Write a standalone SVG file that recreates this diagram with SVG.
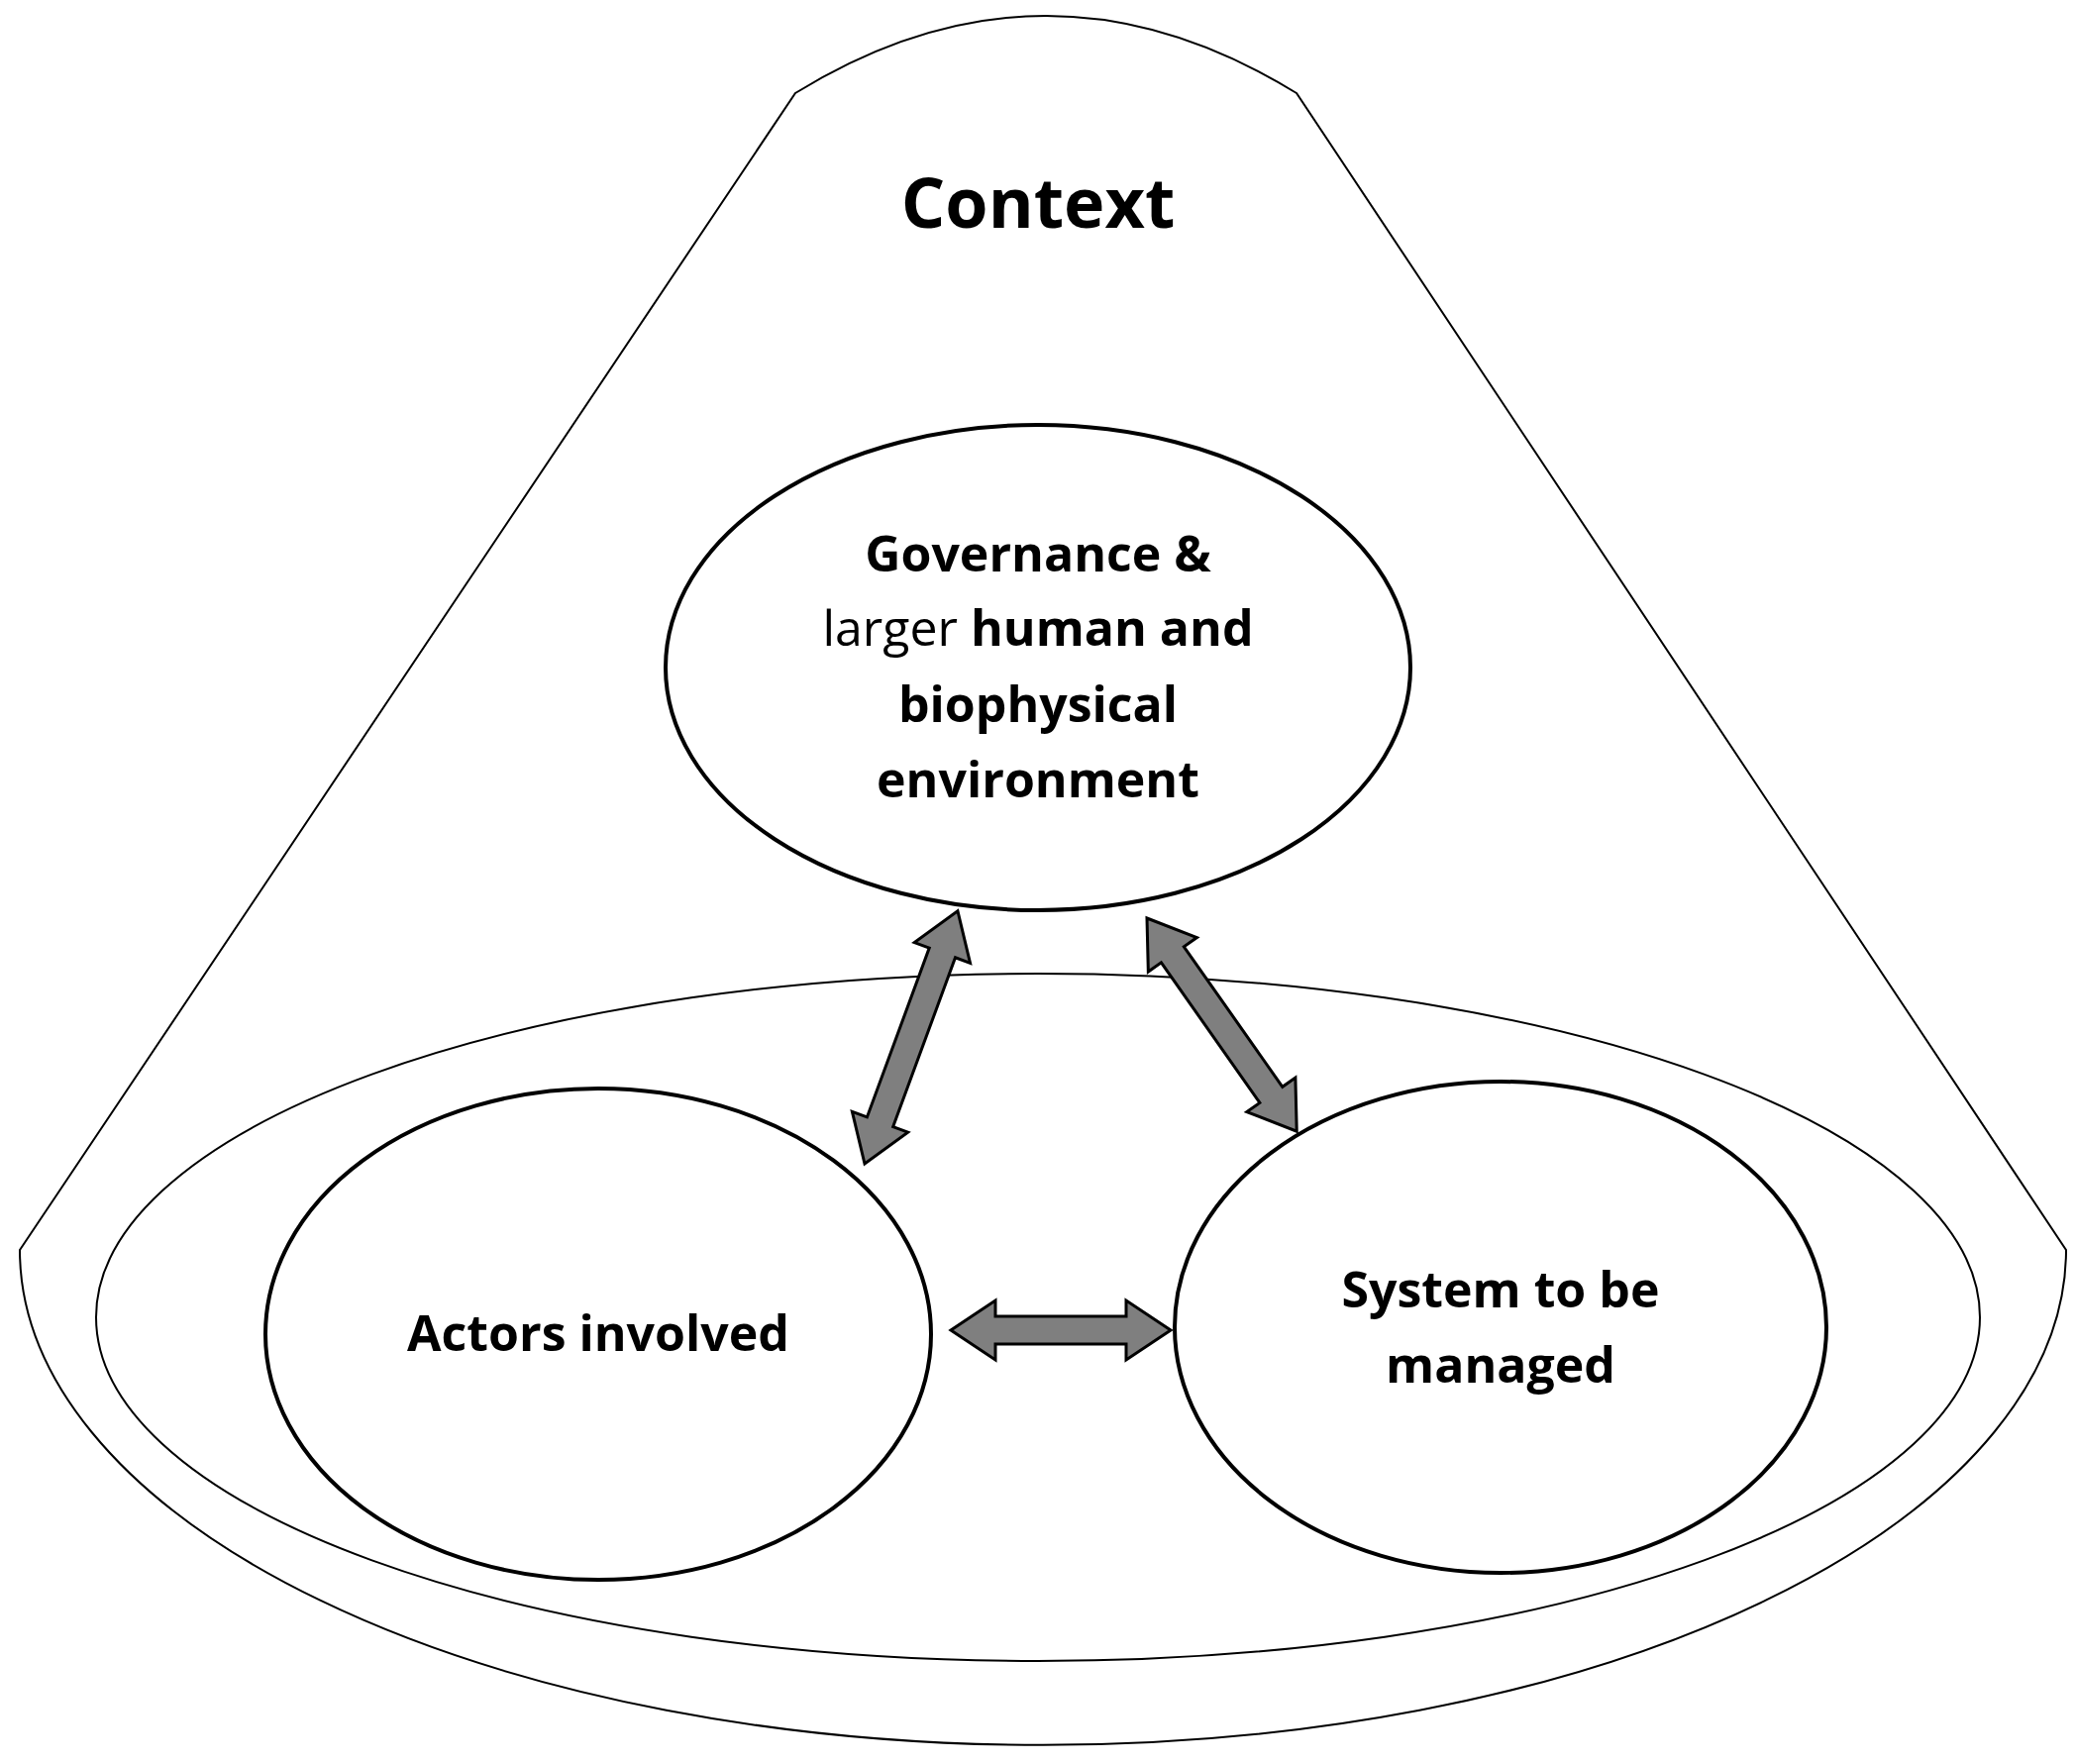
<svg xmlns="http://www.w3.org/2000/svg" width="2095" height="1781" viewBox="0 0 2095 1781">
<style>
.sh{fill:none;stroke:#000;stroke-width:2}
.nd{fill:#fff;stroke:#000;stroke-width:4}
.t{font-family:"Open Sans","Liberation Sans",sans-serif;font-weight:bold;font-size:50px;text-anchor:middle;fill:#000}
.ar{fill:#7f7f7f;stroke:#000;stroke-width:3}
</style>
<rect width="2095" height="1781" fill="#fff"/>
<g id="context">
<path class="sh" d="M803,94 Q1056,-62 1309,94 L2086,1262 A1033,500 0 0 1 20,1262 Z"/>
<text class="t" x="1048" y="230" style="font-size:70px">Context</text>
</g>
<g id="inner"><ellipse class="sh" cx="1048" cy="1330" rx="951" ry="347"/></g>
<g id="governance">
<ellipse class="nd" cx="1048" cy="674" rx="376" ry="245"/>
<text class="t" x="1048" y="577">Governance &amp;</text>
<text class="t" x="1048" y="652"><tspan font-weight="normal">larger</tspan> human and</text>
<text class="t" x="1048" y="729">biophysical</text>
<text class="t" x="1048" y="805">environment</text>
</g>
<g id="actors">
<ellipse class="nd" cx="604" cy="1347" rx="336" ry="248"/>
<text class="t" x="604" y="1364">Actors involved</text>
</g>
<g id="system">
<ellipse class="nd" cx="1515" cy="1340" rx="329" ry="248"/>
<text class="t" x="1515" y="1320">System to be</text>
<text class="t" x="1515" y="1396">managed</text>
</g>
<g id="connectors">
<polygon class="ar" transform="translate(873,1175) rotate(-69.8)" points="0,0 45,-30 45,-14 227,-14 227,-30 272,0 227,30 227,14 45,14 45,30"/>
<polygon class="ar" transform="translate(1158,927) rotate(54.9)" points="0,0 45,-30 45,-14 218,-14 218,-30 263,0 218,30 218,14 45,14 45,30"/>
<polygon class="ar" transform="translate(960,1343)" points="0,0 45,-30 45,-14 177,-14 177,-30 222,0 177,30 177,14 45,14 45,30"/>
</g>
</svg>
